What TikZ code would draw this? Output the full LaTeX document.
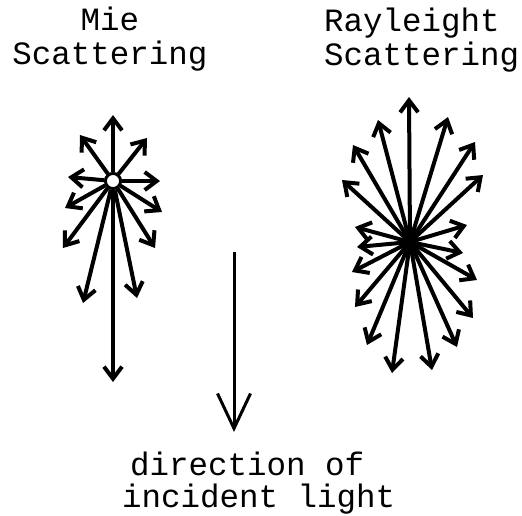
\documentclass[tikz,border=0pt]{standalone}
\usepackage{fontspec}
\setmonofont{Liberation Mono}
\usetikzlibrary{arrows.meta}

\tikzset{
  scat/.style={line width=4pt, -{Straight Barb[length=12pt,width=18pt]}},
  incid/.style={line width=3pt, -{Straight Barb[length=35pt,width=33pt]}},
  particle/.style={circle, draw, line width=2.8pt, fill=white, inner sep=0pt, minimum size=15pt},
  lbl/.style={anchor=base west, inner sep=0pt, font=\ttfamily\fontsize{32.5}{33}\selectfont},
}

\begin{document}
\begin{tikzpicture}[x=1pt, y=-1pt]
  \useasboundingbox (0,0) rectangle (522,515);
  % titles
  \node[lbl, anchor=base] (mieA) at (110,30) {Mie};
  \node[lbl, anchor=base] (mieB) at (110,64) {Scattering};
  \node[lbl] (rayA) at (324,31) {Rayleight};
  \node[lbl] (rayB) at (324,65) {Scattering};

  % Mie scattering: lobe towards forward direction
  \node[particle] (mie) at (113,181) {};
  \foreach \x/\y [count=\i] in {113/115, 80/135, 147/138, 68/177, 160/181, 65/208,
      63/248, 162/212, 155/248, 83/303, 137/298, 113/382}
    \coordinate (m\i) at (\x,\y);
  \foreach \i in {1,...,12}
    \draw[scat] (mie) -- (m\i);
  \node[particle] at (mie) {};

  % Rayleigh scattering: symmetric lobes
  \coordinate (ray) at (410,242);
  \foreach \x/\y [count=\i] in {409/97, 378/120, 353/145, 342/180, 355/227, 357/247,
      352/272, 355/307, 367/345, 392/373, 432/370, 457/347, 473/318, 477/280,
      463/253, 467/225, 483/175, 475/142, 448/117}
    \coordinate (r\i) at (\x,\y);
  \foreach \i in {1,...,19}
    \draw[scat] (ray) -- (r\i);

  % incident light
  \coordinate (inA) at (234,252);
  \coordinate (inB) at (234,432);
  \draw[incid] (inA) -- (inB);
  \node[lbl] (dirA) at (130,475) {direction of};
  \node[lbl] (dirB) at (122,507) {incident light};
\end{tikzpicture}
\end{document}
